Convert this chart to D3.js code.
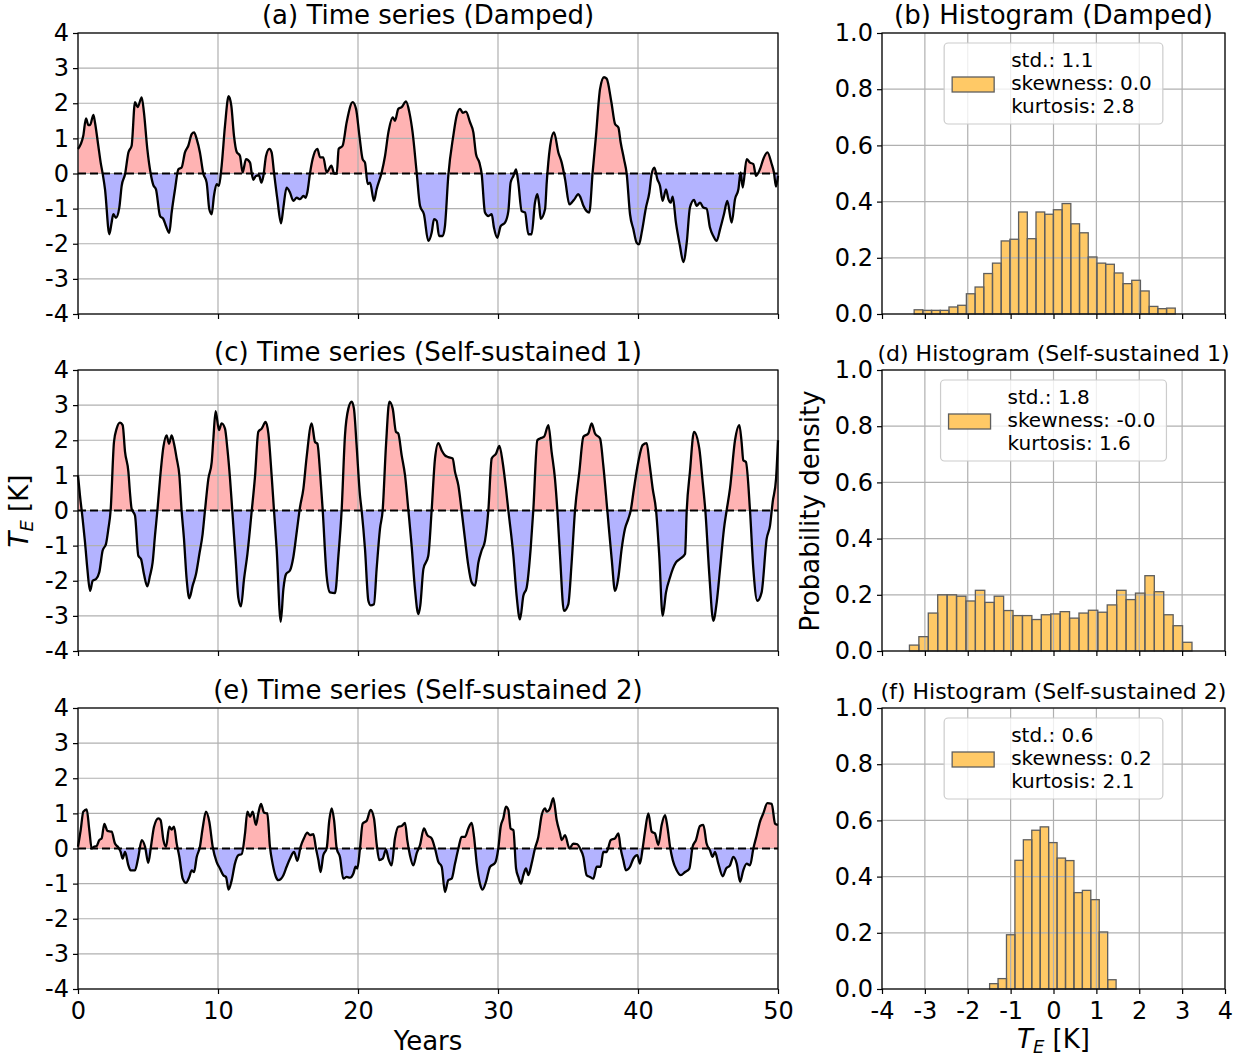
<!DOCTYPE html>
<html>
<head>
<meta charset="utf-8">
<script src="https://cdn.jsdelivr.net/npm/d3@7"></script>
<style>
  body { margin: 0; background: #fff; }
  svg text { font-family: 'DejaVu Sans', sans-serif; fill: #000; }
</style>
</head>
<body>
<svg id="fig" width="1253" height="1058"></svg>
<script>
// ---- data ----
// time series: [year, T_E]
const dampedSeries = [[0,0.70],[0.38,1.08],[0.57,1.57],[0.74,1.38],[0.86,1.38],[1.1,1.67],[1.21,1.46],[1.45,0.79],[1.62,0.31],[1.76,0],[1.93,-0.45],[2.24,-1.73],[2.4,-1.4],[2.52,-1.16],[2.71,-1.26],[2.95,-0.97],[3.12,-0.35],[3.36,-0.02],[3.6,0.6],[3.83,0.79],[4.07,2.03],[4.26,1.89],[4.55,2.17],[4.71,1.74],[4.95,0.7],[5.19,0],[5.38,-0.33],[5.57,-0.45],[5.86,-1.21],[6.1,-1.3],[6.29,-1.5],[6.52,-1.69],[6.69,-1.11],[6.93,-0.45],[7.17,0.12],[7.4,0.17],[7.64,0.6],[7.88,0.79],[8.12,1.12],[8.29,1.17],[8.48,0.98],[8.71,0.6],[8.95,0],[9.19,-0.26],[9.38,-1.02],[9.55,-1.16],[9.71,-0.64],[9.9,-0.3],[10.07,-0.35],[10.26,0.22],[10.5,1.36],[10.76,2.2],[10.95,1.93],[11.14,1.08],[11.33,0.62],[11.57,0.5],[11.76,0.03],[12.0,0.41],[12.29,0.31],[12.4,0.03],[12.52,-0.18],[12.71,-0.07],[12.93,-0.05],[13.1,-0.26],[13.24,-0.07],[13.43,0.5],[13.67,0.7],[13.83,0.6],[14.0,0.03],[14.24,-0.73],[14.5,-1.42],[14.67,-0.97],[14.9,-0.4],[15.14,-0.54],[15.38,-0.78],[15.62,-0.69],[15.86,-0.73],[16.1,-0.64],[16.26,-0.69],[16.38,-0.54],[16.57,0],[16.76,0.41],[17.1,0.7],[17.29,0.46],[17.52,0.46],[17.76,0.03],[18.1,0.22],[18.3,0],[18.48,0],[18.62,0.7],[18.9,0.79],[19.19,1.46],[19.62,2.03],[19.86,1.84],[20.1,1.08],[20.33,0.41],[20.5,0.31],[20.69,-0.3],[20.86,-0.26],[21.14,-0.78],[21.33,-0.45],[21.69,0.03],[21.93,0.5],[22.17,1.17],[22.48,1.6],[22.64,1.5],[22.88,1.84],[23.12,1.89],[23.43,2.05],[23.67,1.74],[23.9,1.17],[24.19,0.03],[24.43,-0.92],[24.71,-1.16],[25.02,-1.92],[25.26,-1.69],[25.43,-1.3],[25.62,-1.35],[25.79,-1.78],[26.05,-1.78],[26.21,-1.5],[26.45,-0.07],[26.81,1.08],[27.05,1.65],[27.29,1.84],[27.48,1.73],[27.71,1.76],[28.0,1.46],[28.24,1.17],[28.43,0.55],[28.67,0.31],[28.83,0],[29.07,-1.11],[29.31,-1.21],[29.55,-1.16],[29.71,-1.54],[29.95,-1.83],[30.19,-1.5],[30.5,-1.4],[30.74,-1.07],[30.9,-0.26],[31.1,-0.07],[31.29,0.12],[31.45,-0.26],[31.69,-1.07],[31.93,-1.11],[32.17,-1.73],[32.4,-1.73],[32.64,-0.83],[32.81,-0.59],[32.95,-0.92],[33.05,-1.29],[33.36,-1.02],[33.48,-0.26],[33.71,0.74],[34.0,1.17],[34.31,0.6],[34.55,0.31],[34.79,-0.16],[35.1,-0.88],[35.26,-0.83],[35.43,-0.75],[35.74,-0.59],[35.9,-0.69],[36.1,-0.92],[36.33,-1.07],[36.52,-1.11],[36.76,0.03],[37.0,1.08],[37.29,2.41],[37.57,2.74],[37.76,2.7],[38.1,2.03],[38.36,1.41],[38.6,1.31],[38.76,0.89],[39.0,0.41],[39.19,0],[39.43,-1.16],[39.67,-1.59],[39.9,-1.97],[40.07,-2.02],[40.26,-1.69],[40.57,-0.97],[40.81,-0.54],[40.98,0],[41.17,0.17],[41.38,-0.16],[41.57,-0.35],[41.76,-0.78],[42.0,-0.45],[42.17,-0.73],[42.33,-0.83],[42.48,-0.66],[42.71,-1.4],[43.0,-2.07],[43.24,-2.52],[43.48,-1.97],[43.71,-0.97],[44.0,-0.75],[44.19,-0.92],[44.43,-0.83],[44.67,-0.97],[44.9,-1.0],[45.14,-1.54],[45.38,-1.78],[45.62,-1.92],[45.86,-1.59],[46.14,-1.16],[46.38,-0.78],[46.69,-1.4],[46.93,-0.73],[47.17,-0.45],[47.33,0.03],[47.48,-0.4],[47.76,0.41],[48.0,0.31],[48.24,0.27],[48.43,-0.07],[48.71,0.12],[48.95,0.41],[49.24,0.6],[49.55,0.27],[49.71,0.03],[49.86,-0.37],[50,-0.07]];

const sustained1Series = [[0,1.0],[0.14,0.43],[0.33,-0.24],[0.5,-0.9],[0.67,-1.67],[0.86,-2.29],[1.05,-2.0],[1.29,-1.95],[1.52,-1.76],[1.76,-1.14],[2.0,-0.95],[2.17,-0.52],[2.33,0],[2.57,1.95],[2.76,2.33],[3.0,2.5],[3.19,2.43],[3.36,1.67],[3.6,1.1],[3.71,0.52],[3.83,0.05],[4.07,-0.14],[4.31,-1.29],[4.5,-1.38],[4.71,-1.81],[4.95,-2.16],[5.14,-1.86],[5.33,-1.48],[5.5,-0.71],[5.67,0],[5.86,0.9],[6.1,1.81],[6.33,2.14],[6.5,1.9],[6.69,2.14],[6.86,1.9],[7.05,1.48],[7.24,1.0],[7.4,0],[7.57,-0.81],[7.76,-1.95],[7.95,-2.5],[8.19,-2.14],[8.43,-1.81],[8.67,-1.24],[8.9,-0.67],[9.07,0],[9.31,0.9],[9.55,1.38],[9.67,2.05],[9.83,2.83],[10.07,2.29],[10.26,2.48],[10.5,2.33],[10.67,1.76],[10.86,0.9],[11.02,0],[11.26,-1.38],[11.45,-2.48],[11.64,-2.73],[11.86,-1.95],[12.1,-1.24],[12.4,-0.05],[12.64,0.95],[12.88,2.24],[13.12,2.33],[13.4,2.52],[13.6,2.19],[13.83,1.0],[14.0,0],[14.19,-1.1],[14.48,-3.17],[14.67,-2.24],[14.86,-1.81],[15.14,-1.71],[15.38,-1.33],[15.62,-0.62],[15.86,0.1],[16.1,0.62],[16.33,1.52],[16.69,2.48],[16.93,1.95],[17.1,1.9],[17.29,1.1],[17.48,0],[17.76,-1.86],[18.0,-2.33],[18.36,-2.35],[18.6,-1.29],[18.83,0],[19.07,2.14],[19.31,2.9],[19.55,3.1],[19.71,2.9],[19.9,1.86],[20.14,0.43],[20.26,0],[20.5,-1.1],[20.74,-2.57],[20.9,-2.7],[21.14,-2.67],[21.33,-1.67],[21.57,-0.52],[21.76,0],[22.0,1.86],[22.24,3.1],[22.48,2.9],[22.71,2.24],[22.88,2.19],[23.12,1.57],[23.36,1.0],[23.6,0],[23.83,-1.0],[24.07,-2.24],[24.31,-2.95],[24.45,-2.7],[24.67,-1.67],[25.02,-1.29],[25.26,0],[25.5,1.48],[25.74,1.92],[25.98,1.71],[26.21,1.57],[26.45,1.52],[26.76,1.48],[26.93,1.1],[27.17,0.71],[27.4,0],[27.64,-0.81],[27.88,-1.57],[28.12,-2.05],[28.36,-2.14],[28.6,-1.48],[28.83,-1.14],[29.07,-0.86],[29.31,0],[29.55,1.48],[29.86,1.62],[30.1,1.84],[30.33,1.38],[30.57,0.62],[30.74,0],[31.1,-1.29],[31.33,-2.43],[31.57,-3.1],[31.81,-2.43],[32.05,-2.19],[32.33,-1.1],[32.52,0],[32.81,2.0],[33.0,2.05],[33.29,2.1],[33.6,2.43],[33.83,1.67],[34.07,0.9],[34.24,0],[34.43,-1.29],[34.71,-2.86],[35.02,-2.67],[35.26,-1.48],[35.5,0],[35.81,1.1],[36.1,2.1],[36.45,2.19],[36.69,2.48],[36.93,2.19],[37.29,2.05],[37.52,1.29],[37.81,0],[38.12,-1.38],[38.36,-2.29],[38.6,-1.9],[38.83,-1.1],[39.07,-0.52],[39.31,-0.24],[39.48,0],[39.71,0.62],[40.02,1.38],[40.33,1.86],[40.62,1.92],[40.81,1.38],[41.05,0.62],[41.29,0],[41.52,-1.29],[41.76,-3.0],[42.0,-2.33],[42.29,-1.9],[42.48,-1.67],[42.71,-1.48],[43.0,-1.38],[43.36,-1.24],[43.48,0],[43.71,1.1],[44.0,2.24],[44.38,1.76],[44.62,0.81],[44.81,0],[45.1,-1.86],[45.38,-3.14],[45.62,-2.62],[45.86,-1.67],[46.14,-0.52],[46.33,0],[46.57,0.62],[46.93,2.0],[47.24,2.43],[47.4,1.95],[47.52,1.43],[47.71,1.38],[48.0,0],[48.24,-1.67],[48.52,-2.57],[48.83,-2.33],[49.19,-0.81],[49.43,-0.43],[49.62,0.24],[49.86,0.9],[50,2.0]];

const sustained2Series = [[0,0.05],[0.19,0.52],[0.38,1.05],[0.62,1.11],[0.81,0.52],[0.98,0],[1.14,0.05],[1.33,0.07],[1.52,0.24],[1.69,0.29],[1.88,0.7],[2.1,0.5],[2.4,0.48],[2.64,0.14],[2.88,0.03],[3.05,-0.1],[3.19,-0.29],[3.36,-0.1],[3.6,-0.48],[3.76,-0.62],[4.07,-0.62],[4.31,-0.24],[4.55,0.24],[4.79,0.05],[5.02,-0.41],[5.21,0.05],[5.43,0.62],[5.74,0.86],[5.9,0.81],[6.1,0.24],[6.29,0.05],[6.52,0.62],[6.69,0.54],[6.86,0.62],[7.05,0.14],[7.24,-0.24],[7.48,-0.86],[7.71,-0.98],[7.95,-0.81],[8.12,-0.62],[8.29,-0.67],[8.48,-0.24],[8.71,0.05],[8.9,0.57],[9.14,1.05],[9.38,0.76],[9.62,0.05],[9.9,-0.38],[10.14,-0.57],[10.38,-0.76],[10.57,-0.81],[10.76,-1.17],[10.98,-0.9],[11.21,-0.43],[11.45,-0.19],[11.69,-0.16],[11.93,0.43],[12.1,1.05],[12.29,0.9],[12.48,1.05],[12.71,0.67],[12.88,1.0],[13.07,1.27],[13.29,1.02],[13.52,1.0],[13.71,0.05],[13.9,-0.43],[14.14,-0.81],[14.31,-0.9],[14.67,-0.76],[14.9,-0.52],[15.14,-0.29],[15.43,-0.1],[15.67,-0.35],[15.9,0.05],[16.14,0.29],[16.38,0.45],[16.57,0.38],[16.81,0.41],[17.0,0],[17.17,-0.33],[17.33,-0.67],[17.52,-0.19],[17.76,0],[17.95,0.81],[18.12,1.14],[18.29,0.81],[18.48,0],[18.71,-0.24],[18.95,-0.86],[19.19,-0.81],[19.43,-0.83],[19.67,-0.71],[19.83,-0.52],[19.95,-0.57],[20.14,0],[20.33,0.71],[20.62,0.79],[20.9,1.1],[21.14,0.86],[21.33,0.14],[21.52,-0.33],[21.76,-0.29],[22.0,-0.03],[22.17,-0.29],[22.4,-0.48],[22.64,0.29],[22.88,0.62],[23.12,0.64],[23.36,0.73],[23.52,0.24],[23.71,-0.19],[23.95,-0.48],[24.19,-0.14],[24.43,0.1],[24.71,0.57],[24.95,0.38],[25.26,0.29],[25.5,0],[25.74,-0.38],[25.98,-0.52],[26.21,-1.24],[26.45,-0.9],[26.69,-0.86],[26.93,-0.43],[27.17,0],[27.4,0.33],[27.64,0.33],[27.88,0.57],[28.12,0.73],[28.29,0.33],[28.48,-0.43],[28.71,-1.0],[28.9,-1.17],[29.14,-0.95],[29.43,-0.52],[29.79,-0.41],[30.02,0],[30.19,0.62],[30.38,0.86],[30.57,1.19],[30.74,1.1],[30.9,0.57],[31.1,0.52],[31.29,-0.57],[31.45,-0.81],[31.64,-1.0],[31.81,-0.76],[32.0,-0.57],[32.17,-0.76],[32.4,-0.43],[32.64,0],[32.88,0.33],[33.12,0.95],[33.36,1.14],[33.48,1.05],[33.71,1.14],[33.95,1.43],[34.19,0.81],[34.43,0.43],[34.55,0.24],[34.79,0.38],[35.1,0],[35.38,0.14],[35.67,0.12],[35.86,0],[36.1,-0.24],[36.33,-0.76],[36.57,-0.81],[36.81,-0.86],[37.05,-0.52],[37.33,-0.52],[37.52,-0.1],[37.76,-0.1],[38.05,0.24],[38.36,0.29],[38.6,0.43],[38.76,0],[38.95,-0.33],[39.14,-0.62],[39.43,-0.52],[39.67,-0.29],[39.95,-0.19],[40.14,-0.43],[40.33,0],[40.5,0.48],[40.74,1.0],[40.98,0.48],[41.21,0.43],[41.45,0.1],[41.69,0.67],[41.93,0.95],[42.1,0.62],[42.29,0.05],[42.48,-0.33],[42.76,-0.62],[43.05,-0.76],[43.36,-0.67],[43.67,-0.57],[43.9,0.05],[44.14,0.24],[44.43,0.64],[44.67,0.67],[44.9,0.14],[45.14,-0.05],[45.33,-0.24],[45.5,-0.1],[45.74,-0.43],[46.05,-0.79],[46.29,-0.57],[46.57,-0.48],[46.81,-0.24],[47.05,-0.43],[47.29,-0.95],[47.52,-0.62],[47.76,-0.43],[48.0,-0.48],[48.24,0],[48.48,0.38],[48.71,0.76],[48.95,1.0],[49.24,1.29],[49.55,1.27],[49.79,0.71],[50,0.67]];

// histograms: bin range [lo, hi] and probability density per bin
const dampedBins = [-3.25, 2.84];
const dampedDensity = [0.015,0.013,0.013,0.013,0.025,0.031,0.072,0.096,0.144,0.181,0.26,0.266,0.363,0.268,0.363,0.355,0.371,0.393,0.321,0.289,0.203,0.181,0.177,0.146,0.108,0.12,0.082,0.027,0.019,0.021];
const sustained1Bins = [-3.36, 3.23];
const sustained1Density = [0.021,0.051,0.135,0.2,0.2,0.195,0.178,0.216,0.173,0.195,0.144,0.126,0.126,0.112,0.129,0.132,0.14,0.117,0.135,0.145,0.138,0.164,0.216,0.183,0.206,0.268,0.211,0.129,0.09,0.031];
const sustained2Bins = [-1.49, 1.46];
const sustained2Density = [0.019,0.037,0.193,0.458,0.531,0.565,0.577,0.521,0.466,0.457,0.343,0.351,0.318,0.203,0.033];

const seriesTitles = ['(a) Time series (Damped)', '(c) Time series (Self-sustained 1)', '(e) Time series (Self-sustained 2)'];
const histTitles = ['(b) Histogram (Damped)', '(d) Histogram (Self-sustained 1)', '(f) Histogram (Self-sustained 2)'];
const legendStats = [
  ['std.: 1.1', 'skewness: 0.0', 'kurtosis: 2.8'],
  ['std.: 1.8', 'skewness: -0.0', 'kurtosis: 1.6'],
  ['std.: 0.6', 'skewness: 0.2', 'kurtosis: 2.1']
];

const yTicksSeries = [-4, -3, -2, -1, 0, 1, 2, 3, 4];
const xTicksYears = [0, 10, 20, 30, 40, 50];
const yTicksHist = [0, 0.2, 0.4, 0.6, 0.8, 1.0];
const xTicksTE = [-4, -3, -2, -1, 0, 1, 2, 3, 4];

// ---- layout ----
const rowTops = [33, 370, 708];
const panelH = 281;
const leftX = [78, 778];
const rightX = [882, 1225];

// colors
const posFill = '#ffb3b3';
const negFill = '#b3b3ff';
const barFill = '#ffc966';
const barEdge = '#5e5e5e';
const gridColor = '#b0b0b0';

const $svg = d3.select('#fig');
$svg.append('rect').attr('width', 1253).attr('height', 1058).attr('fill', '#fff');
const $defs = $svg.append('defs');

const scaleX = d3.scaleLinear().domain([0, 50]).range(leftX);
const scaleXH = d3.scaleLinear().domain([-4, 4]).range(rightX);

function styleAxis($g, size) {
  $g.select('.domain').remove();
  $g.selectAll('line').attr('stroke', '#000').attr('stroke-width', 1.2);
  $g.selectAll('text').attr('font-size', size).attr('font-family', "'DejaVu Sans', sans-serif").attr('fill', '#000');
}

function drawFrame($g, x0, x1, y0, y1) {
  $g.append('rect')
    .attr('x', x0).attr('y', y0)
    .attr('width', x1 - x0).attr('height', y1 - y0)
    .attr('fill', 'none').attr('stroke', '#000').attr('stroke-width', 1.2);
}

function drawGrid($g, xs, ys, scX, scY) {
  const $grid = $g.append('g').attr('class', 'grid');
  $grid.selectAll('.gx').data(xs).enter().append('line')
    .attr('x1', d => scX(d)).attr('x2', d => scX(d))
    .attr('y1', scY.range()[0]).attr('y2', scY.range()[1])
    .attr('stroke', gridColor).attr('stroke-width', 1.2);
  $grid.selectAll('.gy').data(ys).enter().append('line')
    .attr('y1', d => scY(d)).attr('y2', d => scY(d))
    .attr('x1', scX.range()[0]).attr('x2', scX.range()[1])
    .attr('stroke', gridColor).attr('stroke-width', 1.2);
}

// time series panel
function drawSeries(series, row, title, showLabels) {
  const top = rowTops[row];
  const scaleY = d3.scaleLinear().domain([-4, 4]).range([top + panelH, top]);
  const $g = $svg.append('g').attr('class', 'series');

  // clip regions above / below zero
  const idUp = `clipUp${row}`, idDown = `clipDown${row}`;
  $defs.append('clipPath').attr('id', idUp).append('rect')
    .attr('x', leftX[0]).attr('y', top)
    .attr('width', leftX[1] - leftX[0]).attr('height', scaleY(0) - top);
  $defs.append('clipPath').attr('id', idDown).append('rect')
    .attr('x', leftX[0]).attr('y', scaleY(0))
    .attr('width', leftX[1] - leftX[0]).attr('height', top + panelH - scaleY(0));

  const area = d3.area()
    .x(d => scaleX(d[0]))
    .y0(scaleY(0))
    .y1(d => scaleY(d[1]))
    .curve(d3.curveMonotoneX);
  const line = d3.line()
    .x(d => scaleX(d[0]))
    .y(d => scaleY(d[1]))
    .curve(d3.curveMonotoneX);

  $g.append('path').datum(series).attr('d', area)
    .attr('fill', posFill).attr('clip-path', `url(#${idUp})`);
  $g.append('path').datum(series).attr('d', area)
    .attr('fill', negFill).attr('clip-path', `url(#${idDown})`);

  drawGrid($g, xTicksYears, yTicksSeries, scaleX, scaleY);

  $g.append('line')
    .attr('x1', leftX[0]).attr('x2', leftX[1])
    .attr('y1', scaleY(0)).attr('y2', scaleY(0))
    .attr('stroke', '#000').attr('stroke-width', 2).attr('stroke-dasharray', '8,4');

  $g.append('path').datum(series).attr('d', line)
    .attr('fill', 'none').attr('stroke', '#000').attr('stroke-width', 2.3)
    .attr('stroke-linejoin', 'round');

  drawFrame($g, leftX[0], leftX[1], top, top + panelH);

  const $ya = $g.append('g').attr('transform', `translate(${leftX[0]},0)`)
    .call(d3.axisLeft(scaleY).tickValues(yTicksSeries).tickSize(5).tickPadding(4).tickFormat(d => String(d)));
  styleAxis($ya, 24);

  const $xa = $g.append('g').attr('transform', `translate(0,${top + panelH})`)
    .call(d3.axisBottom(scaleX).tickValues(xTicksYears).tickSize(5).tickPadding(8)
      .tickFormat(d => showLabels ? String(d) : ''));
  styleAxis($xa, 24);

  $g.append('text')
    .attr('x', (leftX[0] + leftX[1]) / 2).attr('y', top - 9)
    .attr('text-anchor', 'middle').attr('font-size', 26)
    .text(title);
}

// histogram panel
function drawHist(bins, density, row, title, titleSize, stats, showLabels) {
  const top = rowTops[row];
  const scaleY = d3.scaleLinear().domain([0, 1]).range([top + panelH, top]);
  const $g = $svg.append('g').attr('class', 'hist');
  const w = (bins[1] - bins[0]) / density.length;
  const barX = (d, i) => scaleXH(bins[0] + i * w);
  const barW = (d, i) => scaleXH(bins[0] + (i + 1) * w) - scaleXH(bins[0] + i * w);

  $g.selectAll('.bar').data(density).enter().append('rect')
    .attr('class', 'bar')
    .attr('x', barX).attr('width', barW)
    .attr('y', d => scaleY(d))
    .attr('height', d => scaleY(0) - scaleY(d))
    .attr('fill', barFill);

  drawGrid($g, xTicksTE, yTicksHist, scaleXH, scaleY);

  // bar outlines above the grid
  $g.selectAll('.barEdge').data(density).enter().append('rect')
    .attr('class', 'barEdge')
    .attr('x', barX).attr('width', barW)
    .attr('y', d => scaleY(d))
    .attr('height', d => scaleY(0) - scaleY(d))
    .attr('fill', 'none').attr('stroke', barEdge).attr('stroke-width', 1.3);

  drawFrame($g, rightX[0], rightX[1], top, top + panelH);

  const $ya = $g.append('g').attr('transform', `translate(${rightX[0]},0)`)
    .call(d3.axisLeft(scaleY).tickValues(yTicksHist).tickSize(5).tickPadding(4).tickFormat(d3.format('.1f')));
  styleAxis($ya, 24);

  const $xa = $g.append('g').attr('transform', `translate(0,${top + panelH})`)
    .call(d3.axisBottom(scaleXH).tickValues(xTicksTE).tickSize(5).tickPadding(8)
      .tickFormat(d => showLabels ? String(d) : ''));
  styleAxis($xa, 24);

  $g.append('text')
    .attr('x', (rightX[0] + rightX[1]) / 2).attr('y', top - 9)
    .attr('text-anchor', 'middle').attr('font-size', titleSize)
    .text(title);

  // legend (upper center)
  const $leg = $g.append('g').attr('class', 'legend');
  const $box = $leg.append('rect');
  const texts = $leg.selectAll('.lt').data(stats).enter().append('text')
    .attr('font-size', 20)
    .attr('y', (d, i) => top + 34 + i * 23)
    .text(d => d);
  const maxW = d3.max(texts.nodes(), n => n.getComputedTextLength());
  const boxW = 67 + maxW + 11;
  const boxX = (rightX[0] + rightX[1]) / 2 - boxW / 2;
  texts.attr('x', boxX + 67);
  $box.attr('x', boxX).attr('y', top + 10)
    .attr('width', boxW).attr('height', 81)
    .attr('rx', 4)
    .attr('fill', '#fff').attr('fill-opacity', 0.8)
    .attr('stroke', '#cccccc').attr('stroke-width', 1.2);
  $leg.append('rect')
    .attr('x', boxX + 8).attr('y', top + 44)
    .attr('width', 42).attr('height', 15)
    .attr('fill', barFill).attr('stroke', barEdge).attr('stroke-width', 1.3);
}

drawSeries(dampedSeries, 0, seriesTitles[0], false);
drawSeries(sustained1Series, 1, seriesTitles[1], false);
drawSeries(sustained2Series, 2, seriesTitles[2], true);

drawHist(dampedBins, dampedDensity, 0, histTitles[0], 26, legendStats[0], false);
drawHist(sustained1Bins, sustained1Density, 1, histTitles[1], 22, legendStats[1], false);
drawHist(sustained2Bins, sustained2Density, 2, histTitles[2], 22, legendStats[2], true);

// axis labels
function teLabel($t) {
  $t.append('tspan').attr('font-style', 'italic').text('T');
  $t.append('tspan').attr('font-style', 'italic').attr('font-size', 18).attr('dy', 5).text('E');
  $t.append('tspan').attr('dy', -5).text(' [K]');
}

const $yl = $svg.append('text')
  .attr('transform', 'translate(28,511) rotate(-90)')
  .attr('text-anchor', 'middle').attr('font-size', 26);
teLabel($yl);

$svg.append('text')
  .attr('transform', 'translate(819,511) rotate(-90)')
  .attr('text-anchor', 'middle').attr('font-size', 26)
  .text('Probability density');

$svg.append('text')
  .attr('x', (leftX[0] + leftX[1]) / 2).attr('y', 1050)
  .attr('text-anchor', 'middle').attr('font-size', 26)
  .text('Years');

const $xl = $svg.append('text')
  .attr('x', (rightX[0] + rightX[1]) / 2).attr('y', 1048)
  .attr('text-anchor', 'middle').attr('font-size', 26);
teLabel($xl);
</script>
</body>
</html>
